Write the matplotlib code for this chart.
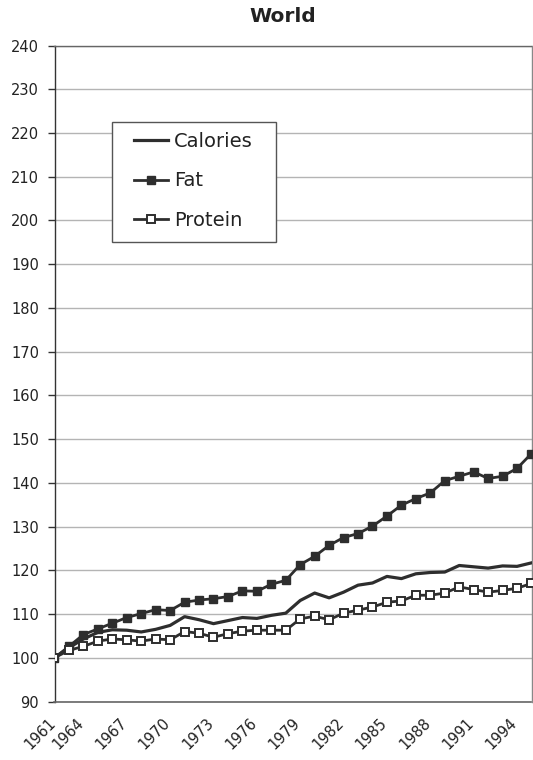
import matplotlib
matplotlib.use("Agg")
import matplotlib.pyplot as plt
from matplotlib.patches import Rectangle
from matplotlib.transforms import ScaledTranslation

years = list(range(1961, 1995))
calories = [100, 102.3, 104.3, 105.8, 106.4, 106.3, 105.9, 106.5, 107.4, 109.4,
            108.7, 107.8, 108.5, 109.2, 109.0, 109.7, 110.2, 113.1, 114.8, 113.7,
            115.0, 116.6, 117.1, 118.6, 118.1, 119.2, 119.5, 119.6, 121.1, 120.8,
            120.5, 121.0, 120.9, 121.7]
fat = [100, 102.6, 105.3, 106.6, 107.9, 109.2, 110.1, 111.0, 110.8, 112.7,
       113.2, 113.5, 114.0, 115.3, 115.2, 116.8, 117.7, 121.3, 123.2, 125.7,
       127.5, 128.4, 130.1, 132.4, 134.9, 136.4, 137.7, 140.5, 141.5, 142.5,
       141.0, 141.5, 143.3, 146.7]
protein = [100, 101.7, 102.6, 103.8, 104.3, 104.1, 103.8, 104.3, 104.1, 106.0,
           105.6, 104.7, 105.5, 106.1, 106.3, 106.3, 106.3, 108.9, 109.5, 108.7,
           110.2, 110.9, 111.6, 112.7, 113.0, 114.3, 114.3, 114.8, 116.2, 115.6,
           115.0, 115.4, 115.9, 117.0]
xtick_years = list(range(1961, 1995, 3))
yticks = list(range(90, 241, 10))
title = "World"

W, H = 533, 760
fig = plt.figure(figsize=(W / 100, H / 100), dpi=100)
L, R, T, B = 54.5, 531.5, 45.5, 701.5
ax = fig.add_axes([L / W, 1 - B / H, (R - L) / W, (B - T) / H])

c = "#2e2e2e"
ax.plot(years, calories, color=c, lw=2.3, label="Calories", zorder=3)
ax.plot(years, fat, color=c, lw=2.0, marker="s", markersize=5.8,
        markerfacecolor=c, markeredgecolor=c, label="Fat", zorder=4)
ax.plot(years, protein, color=c, lw=2.0, marker="s", markersize=5.8,
        markerfacecolor="white", markeredgecolor=c, markeredgewidth=1.4,
        label="Protein", zorder=5)

ax.set_xlim(1961, 1994)
ax.set_ylim(90, 240)
ax.set_yticks(yticks)
ax.set_xticks(xtick_years)
ax.set_xticklabels([str(y) for y in xtick_years], rotation=45, ha="right",
                   va="top", rotation_mode="anchor", fontsize=10.5, color="#222")
ax.tick_params(axis="x", length=0, pad=10)
for i, lab in enumerate(ax.get_xticklabels()):
    dx = -6 if i == 0 else -22
    lab.set_transform(lab.get_transform() + ScaledTranslation(dx / 100, 0, fig.dpi_scale_trans))
ax.tick_params(axis="y", length=5, width=1, color="#333", labelsize=10.5,
               labelcolor="#222", pad=6)
ax.yaxis.grid(True, color="#b4b4b4", lw=1.0)
ax.set_axisbelow(True)
ax.spines["left"].set_color("#333")
ax.spines["left"].set_linewidth(1.0)
ax.spines["bottom"].set_color("#666")
ax.spines["bottom"].set_linewidth(1.2)
ax.spines["top"].set_color("#666")
ax.spines["top"].set_linewidth(1.0)
ax.spines["right"].set_color("#888")
ax.spines["right"].set_linewidth(1.0)

fig.text(283 / W, 1 - 17 / H, title, ha="center", va="center",
         fontsize=14.5, fontweight="bold", color="#222")

# legend frame (pixel box 112..276 x 122..242)
def to_ax(px, py):
    return (px - L) / (R - L), (B - py) / (B - T)
x0, y1 = to_ax(112, 122)
x1, y0 = to_ax(276, 242)
ax.add_patch(Rectangle((x0, y0), x1 - x0, y1 - y0, transform=ax.transAxes,
                       facecolor="white", edgecolor="#555", lw=1.0, zorder=6))
lx, ly = to_ax(134, 132)
leg = ax.legend(loc="upper left", bbox_to_anchor=(lx, ly), frameon=False,
                fontsize=14, handlelength=1.75, handletextpad=0.3,
                labelspacing=1.05, borderpad=0, borderaxespad=0)
leg.set_zorder(7)
for t in leg.get_texts():
    t.set_color("#222")

fig.savefig("out.png", dpi=100, facecolor="white")
